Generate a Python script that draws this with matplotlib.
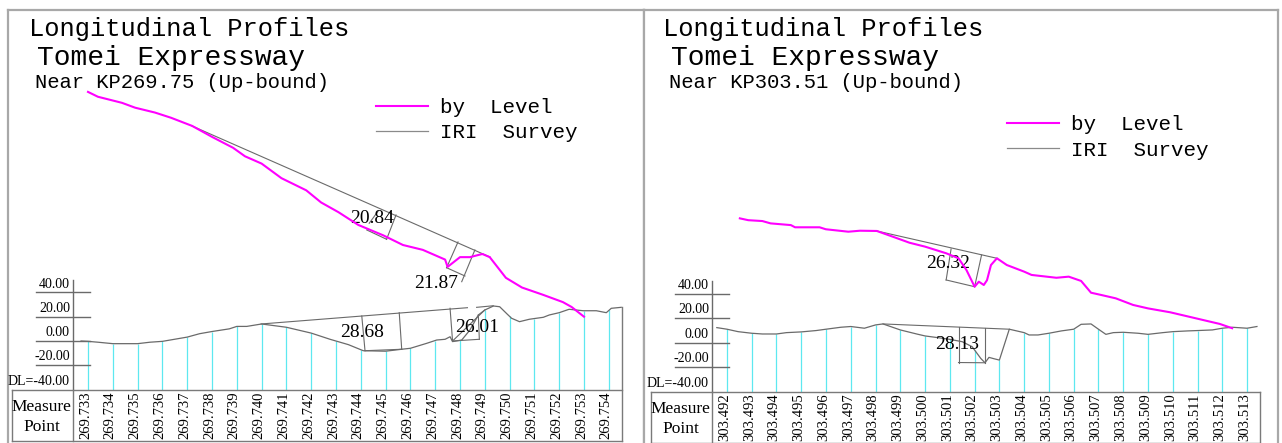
import matplotlib
matplotlib.use('Agg')
import matplotlib.pyplot as plt
import numpy as np

## measure points, 1 m pitch
points_l = ["269.733", "269.734", "269.735", "269.736", "269.737", "269.738",
            "269.739", "269.740", "269.741", "269.742", "269.743", "269.744",
            "269.745", "269.746", "269.747", "269.748", "269.749", "269.750",
            "269.751", "269.752", "269.753", "269.754"]
points_r = ["303.492", "303.493", "303.494", "303.495", "303.496", "303.497",
            "303.498", "303.499", "303.500", "303.501", "303.502", "303.503",
            "303.504", "303.505", "303.506", "303.507", "303.508", "303.509",
            "303.510", "303.511", "303.512", "303.513"]

## profiles: x = metres from first measure point, y = height in mm
level_l_x = [0, 0.4, 1.37, 1.9, 2.7, 3.35, 4.2, 5.0, 5.85, 6.33, 7.0, 7.8, 8.8,
             9.4, 10.1, 10.9, 11.9, 12.7, 13.5, 14.4, 14.5, 15.0, 15.4, 15.9,
             16.2, 16.85, 17.5, 18.35, 19.15, 19.5, 20.0]
level_l_mm = [205, 201, 196, 192, 188, 183.7, 177, 168, 159, 152, 146, 134, 124,
              114, 106, 95.5, 87, 79, 75, 67, 61, 69, 69, 71.6, 69, 52, 44, 38,
              32, 28, 20]
iri_l_x = [-0.28, 0, 0.4, 1.0, 2.0, 2.5, 3.0, 4.0, 4.5, 5.0, 5.7, 6.0, 6.4, 7.0,
           8.0, 9.0, 9.76, 10.5, 11.1, 12.0, 12.65, 13.0, 13.66, 14.06, 14.4,
           14.6, 14.7, 15.07, 15.4, 15.74, 16.0, 16.35, 16.6, 16.9, 17.08, 17.4,
           17.8, 18.36, 18.6, 19.0, 19.4, 19.97, 20.5, 20.9, 21.1, 21.5]
iri_l_mm = [0, -0.3, -1, -2.2, -2.2, -1, -0.3, 3.2, 6, 7.8, 10, 12, 12, 14,
            11.3, 6.5, 1.4, -3, -8, -8.4, -6.8, -6, -1.9, 0.8, 1.4, 3.5, -0.5,
            0.8, 9, 21.4, 25.5, 28.8, 28.2, 22.2, 18.7, 15.9, 17.9, 19.5, 21.4,
            23.3, 26.1, 24.9, 24.9, 23.3, 26.9, 27.7]

level_r_x = [0.52, 0.86, 1.43, 1.76, 2.58, 2.75, 3.74, 3.99, 4.9, 5.37, 6.05,
             6.7, 7.37, 8.0, 8.85, 9.35, 9.67, 10.0, 10.17, 10.37, 10.5, 10.66,
             10.9, 11.3, 12.0, 12.3, 13.3, 13.8, 14.3, 14.7, 15.1, 15.7, 16.4,
             17.0, 17.9, 19.1, 19.9, 20.4]
level_r_mm = [101.5, 100, 99.3, 97.4, 96, 94.2, 94.2, 92.6, 90.6, 91.4, 91.2,
              86.5, 81.6, 78.4, 73, 68.9, 59.3, 45.7, 49.8, 47.1, 51, 63.4,
              68.9, 63.4, 58, 55.3, 53, 53.9, 50.4, 40.8, 39, 36.2, 30.8, 28,
              24.8, 19.1, 15.3, 11.8]
iri_r_x = [-0.41, 0, 0.45, 1, 1.43, 2, 2.4, 3, 3.6, 4, 4.6, 5, 5.55, 6, 6.3, 7,
           7.7, 8, 8.7, 9.0, 9.5, 9.9, 10.25, 10.42, 10.58, 10.8, 11.0, 11.4,
           12, 12.2, 12.56, 13, 13.5, 14, 14.3, 14.7, 15, 15.3, 15.6, 16, 16.6,
           17, 17.6, 18, 18.6, 19, 19.6, 20, 20.4, 21, 21.4]
iri_r_mm = [12.3, 11, 9, 7.7, 7.1, 7.1, 8.2, 8.8, 9.9, 11, 12.6, 13.2, 11.8,
            14.5, 15.3, 10.4, 6.9, 5.5, 3.6, 2.7, 0.8, -3.3, -12.9, -16.4, -12,
            -13.2, -14.2, 11, 8.2, 6.3, 6.3, 7.7, 9.6, 11, 15, 15.3, 11, 6.8,
            8.2, 8.5, 7.7, 6.8, 8.2, 9, 9.6, 9.9, 10.4, 11.8, 12.6, 11.8, 13.2]

## chord / offset construction lines (x0, y0, x1, y1)
chords_l = [(4.19, 177, 16.21, 69.1),
            (11.71, 107.2, 11.34, 96.9), (11.24, 91.4, 12.04, 83.7),
            (12.42, 103.7, 12.04, 83.7),
            (14.92, 81.5, 14.46, 60.3), (14.46, 60.3, 15.2, 53.5),
            (15.6, 74.9, 15.07, 48.8),
            (6.98, 14, 15.3, 27.4),
            (11.04, 20.6, 11.17, -8), (11.17, -8, 12.65, -6.8),
            (12.55, 23.3, 12.65, -6.8),
            (14.6, 26.9, 14.7, 0), (14.7, 0, 15.78, 1.4),
            (15.78, 1.4, 15.74, 21.4), (14.7, 0, 16.0, 25.5),
            (15.67, 27.7, 16.34, 29)]
chords_r = [(6.05, 91.2, 10.9, 68.9),
            (9.05, 76.5, 8.85, 51.2), (8.85, 51.2, 10.0, 45.7),
            (10.28, 71.6, 10.0, 45.7),
            (6.3, 15.3, 11.4, 11),
            (9.35, 12.6, 9.35, -16.2), (9.35, -16.2, 10.42, -16.4),
            (10.42, 11.8, 10.42, -16.4)]

dev_l = ["20.84", "21.87", "28.68", "26.01"]
dev_l_xy = [(11.45, 101), (14.03, 47), (11.05, 6.6), (15.7, 11.5)]
dev_r = ["26.32", "28.13"]
dev_r_xy = [(8.93, 64.3), (9.3, -1.8)]

scale_mm = [40, 20, 0, -20, -40]
scale_txt = ["40.00", "20.00", "0.00", "-20.00", "DL=-40.00"]

titles_l = ["Longitudinal Profiles", "Tomei Expressway", "Near KP269.75 (Up-bound)"]
titles_r = ["Longitudinal Profiles", "Tomei Expressway", "Near KP303.51 (Up-bound)"]

W, H = 1282, 443
MONO = 'Liberation Mono'
SERIF = 'Liberation Serif'
FRAME = '#a8a8a8'
DARK = '#6a6a6a'

fig = plt.figure(figsize=(W / 100, H / 100), dpi=100)
fig.patch.set_facecolor('white')


def panel(rect, xlim, ylim, points, lv_x, lv_mm, iri_x, iri_mm, chords,
          devs, dev_xy, titles, tx, leg_xy, table_bot, close_right, left_spine):
    ax = fig.add_axes(rect)
    ax.set_xlim(*xlim)
    ax.set_ylim(*ylim)
    ax.set_xticks([])
    ax.set_yticks([])
    for side in ['top', 'right', 'left']:
        ax.spines[side].set_color(FRAME)
        ax.spines[side].set_linewidth(1.6)
    ax.spines['bottom'].set_visible(False)
    ax.spines['left'].set_visible(left_spine)

    n = len(points)
    xs = np.arange(n)

    # cyan drop lines at each measure point
    tops = np.interp(xs, iri_x, iri_mm)
    ax.vlines(xs, -40, tops, color='#5ee8f0', lw=0.9, zorder=1)

    # height scale
    ax.plot([-0.6, -0.6], [50, -40], color=DARK, lw=1)
    for v, t in zip(scale_mm, scale_txt):
        if v > -40:
            ax.plot([-2.1, 0.08], [v, v], color=DARK, lw=1)
        ax.text(-0.73, v + 1.5, t, ha='right', va='bottom', fontsize=10,
                family=SERIF)

    # table
    tc = '#7a7a7a'
    x_left, x_right = -3.08, 21.53
    ax.plot([x_left, x_right], [-40, -40], color=tc, lw=1)
    ax.plot([x_left, x_right], [table_bot, table_bot], color=tc, lw=1)
    ax.plot([x_left, x_left], [-40, table_bot], color=tc, lw=1)
    ax.plot([-0.6, -0.6], [-40, table_bot], color=tc, lw=1)
    top_r = iri_mm[-1] if close_right else -40
    ax.plot([x_right, x_right], [top_r, table_bot], color=tc, lw=1)
    ax.text(-1.88, -54.5, "Measure", ha='center', va='center', fontsize=12.5,
            family=SERIF)
    ax.text(-1.85, -70.5, "Point", ha='center', va='center', fontsize=12.5,
            family=SERIF)
    for i, p in enumerate(points):
        ax.text(i - 0.1, (-40 + table_bot) / 2, p, rotation=90, ha='center',
                va='center', fontsize=10.5, family=SERIF)

    # construction lines and deviation values
    for x0, y0, x1, y1 in chords:
        ax.plot([x0, x1], [y0, y1], color=DARK, lw=0.8, zorder=2)
    for t, (x, y) in zip(devs, dev_xy):
        ax.text(x, y, t, ha='center', va='center', fontsize=14, family=SERIF,
                zorder=4)

    h2, = ax.plot(iri_x, iri_mm, color=DARK, lw=0.9, zorder=3, label='IRI  Survey')
    h1, = ax.plot(lv_x, lv_mm, color='#ff00ff', lw=1.5, zorder=5, label='by  Level')

    leg = ax.legend(handles=[h1, h2], loc='center left', bbox_to_anchor=leg_xy,
                    bbox_transform=ax.transData, frameon=False,
                    prop={'family': MONO, 'size': 15}, handlelength=2.5,
                    handletextpad=0.6, borderpad=0, borderaxespad=0,
                    labelspacing=0.3)
    leg.legend_handles[1].set_color('#8a8a8a')

    # headings
    sizes = [18.4, 20.2, 14.8]
    base = [36, 65, 88]
    for t, x, s, b in zip(titles, tx, sizes, base):
        fig.text(x / W, 1 - b / H, t, ha='left', va='baseline', fontsize=s,
                 family=MONO)
    return ax


panel([8 / W, 0, 636 / W, 433 / H], (-3.226, 22.42), (-83.95, 272.4),
      points_l, level_l_x, level_l_mm, iri_l_x, iri_l_mm, chords_l,
      dev_l, dev_l_xy, titles_l, [29, 37, 35], (11.6, 181.8), -82.3,
      True, True)
panel([644 / W, 0, 634 / W, 433 / H], (-3.35, 22.25), (-81.9, 271.6),
      points_r, level_r_x, level_r_mm, iri_r_x, iri_r_mm, chords_r,
      dev_r, dev_r_xy, titles_r, [663, 671, 669], (11.3, 167.5), -81.5,
      False, True)

fig.savefig("out.png", dpi=100, facecolor='white')
